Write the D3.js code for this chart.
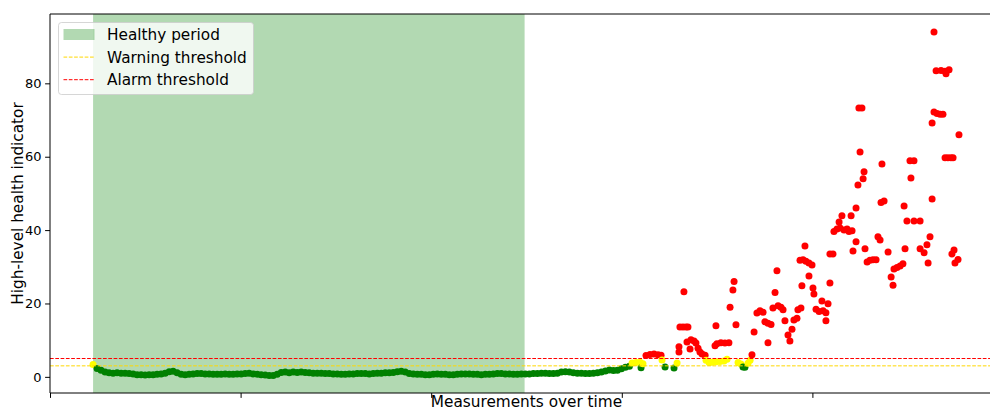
<!DOCTYPE html>
<html>
<head>
<meta charset="utf-8">
<script src="https://cdn.jsdelivr.net/npm/d3@7"></script>
<style>
  html, body { margin: 0; padding: 0; background: #fff; }
  svg { display: block; font-family: "DejaVu Sans", sans-serif; }
</style>
</head>
<body>
<svg id="chart" width="990" height="410"></svg>
<script>
// Health indicator per measurement: a dense, steady baseline followed by a
// sparse stretch where the indicator climbs past both thresholds.
const baselineStart = 226;
const baselineStep = 21;
const baselineValues = [
  3.4, 2.3, 1.8, 1.3, 1.1, 1.0, 1.1, 1.0, 1.0, 0.9, 0.8, 0.6, 0.6, 0.5, 0.6, 0.6,
  0.7, 0.8, 1.0, 1.4, 1.5, 1.1, 0.7, 0.6, 0.7, 0.8, 0.9, 0.9, 0.8, 0.8, 0.7, 0.7,
  0.7, 0.8, 0.7, 0.7, 0.8, 0.8, 0.9, 1.0, 0.8, 0.7, 0.6, 0.5, 0.4, 0.4, 0.7, 1.2,
  1.3, 1.1, 1.3, 1.2, 1.3, 1.2, 1.1, 1.0, 1.0, 1.0, 0.9, 0.9, 0.8, 0.8, 0.7, 0.7,
  0.8, 0.8, 0.9, 0.9, 0.9, 0.8, 0.9, 1.0, 1.0, 1.1, 1.1, 1.2, 1.4, 1.5, 1.3, 0.9,
  0.8, 0.7, 0.7, 0.6, 0.6, 0.7, 0.8, 0.7, 0.7, 0.6, 0.6, 0.7, 0.8, 0.8, 0.8, 0.7,
  0.7, 0.6, 0.7, 0.7, 0.8, 0.9, 0.9, 0.8, 0.8, 0.7, 0.7, 0.8, 0.8, 0.8, 0.9, 0.9,
  1.0, 1.0, 0.9, 0.9, 1.0, 1.3, 1.4, 1.3, 1.1, 1.0, 1.0, 0.9, 0.9, 1.0, 1.1, 1.3,
  1.6, 1.9, 1.7, 1.8, 2.2, 2.6, 2.9
];

const lateTimes = [
  3054, 3075, 3096, 3101, 3111, 3127, 3148, 3169, 3190, 3206, 3211, 3227, 3274, 3290, 3300, 3300,
  3305, 3321, 3326, 3337, 3342, 3347, 3358, 3363, 3379, 3389, 3400, 3410, 3421, 3437, 3442, 3458,
  3473, 3489, 3494, 3494, 3499, 3515, 3520, 3536, 3541, 3552, 3562, 3568, 3583, 3589, 3599, 3610,
  3625, 3636, 3646, 3662, 3673, 3683, 3694, 3709, 3725, 3741, 3751, 3767, 3767, 3783, 3793, 3804,
  3814, 3820, 3835, 3846, 3856, 3872, 3882, 3893, 3903, 3919, 3924, 3935, 3940, 3945, 3951, 3961,
  3966, 3982, 3982, 3998, 4003, 4008, 4019, 4035, 4050, 4056, 4071, 4071, 4082, 4092, 4092, 4108,
  4113, 4129, 4140, 4145, 4155, 4166, 4182, 4192, 4203, 4208, 4213, 4229, 4229, 4239, 4244, 4250,
  4260, 4266, 4271, 4276, 4287, 4302, 4318, 4334, 4344, 4355, 4360, 4365, 4376, 4397, 4413, 4423,
  4428, 4444, 4460, 4475, 4481, 4486, 4496, 4512, 4517, 4533, 4533, 4565, 4565, 4586, 4601, 4607,
  4617, 4628, 4628, 4638, 4638, 4649, 4654, 4670, 4675, 4685, 4696, 4696, 4701, 4711, 4717, 4727,
  4732, 4738, 4743, 4748, 4764, 4769
];
const lateValues = [
  3.8, 3.9, 4.0, 2.5, 3.6, 5.8, 6.1, 6.2, 6.0, 5.9, 4.6, 2.7, 2.4, 3.8, 6.8, 8.2,
  13.6, 13.6, 23.2, 13.6, 9.5, 13.6, 7.6, 10.1, 9.8, 9.2, 7.8, 6.8, 6.2, 5.9, 4.5, 3.9,
  4.0, 8.5, 4.1, 13.9, 9.0, 4.2, 9.3, 4.3, 9.2, 4.8, 9.3, 19.0, 23.7, 26.0, 14.2, 3.9,
  3.5, 2.7, 2.6, 3.7, 4.5, 6.0, 12.2, 17.4, 18.0, 17.6, 15.0, 14.6, 9.3, 14.3, 18.8, 23.0,
  28.9, 19.4, 19.0, 18.3, 15.3, 11.4, 9.8, 13.0, 15.5, 16.0, 18.3, 31.8, 18.8, 24.8, 31.9, 35.7,
  31.5, 31.0, 27.5, 30.5, 24.2, 22.6, 18.4, 17.8, 20.7, 18.0, 15.3, 17.5, 19.9, 25.6, 33.5, 33.5,
  39.6, 40.3, 42.2, 40.6, 43.9, 40.0, 40.3, 39.6, 43.9, 39.8, 34.3, 36.8, 46.0, 52.3, 73.3, 61.3,
  73.3, 54.0, 55.9, 34.9, 31.3, 31.8, 31.9, 31.9, 38.2, 37.3, 47.5, 58.0, 47.9, 34.0, 27.2, 25.0,
  29.4, 29.8, 30.2, 30.8, 46.6, 34.9, 42.5, 58.9, 54.2, 58.9, 42.5, 42.5, 34.9, 33.8, 36.0, 31.0,
  38.2, 48.5, 69.2, 94.0, 72.2, 83.4, 71.8, 71.6, 83.5, 71.6, 83.3, 59.7, 82.6, 59.7, 83.7, 59.7,
  33.5, 59.7, 34.6, 31.0, 32.0, 66.0
];

const healthyPeriod = [226, 2490];
const warningThreshold = 3;
const alarmThreshold = 5;
const xDomain = [0, 5000];
const yDomain = [-4.4, 98.9];
const xTicks = [0, 1000, 2000, 3000, 4000, 5000];
const yTicks = [0, 20, 40, 60, 80];

// Assemble the point table from the arrays above.
const points = baselineValues.map((v, i) => ({ t: baselineStart + i * baselineStep, v }))
  .concat(lateTimes.map((t, i) => ({ t, v: lateValues[i] })));

const margin = { left: 50, top: 14, right: 1003, bottom: 393 };
const svg = d3.select("#chart");

const x = d3.scaleLinear().domain(xDomain).range([margin.left, margin.right]);
const y = d3.scaleLinear().domain(yDomain).range([margin.bottom, margin.top]);

const colorFor = v => v >= alarmThreshold ? "#ff0000" : (v >= warningThreshold ? "#ffff00" : "#008000");

// Healthy span shading
svg.append("rect")
  .attr("x", x(healthyPeriod[0]))
  .attr("y", margin.top)
  .attr("width", x(healthyPeriod[1]) - x(healthyPeriod[0]))
  .attr("height", margin.bottom - margin.top)
  .attr("fill", "#008000")
  .attr("fill-opacity", 0.3);

// Measurements
svg.append("g")
  .selectAll("circle")
  .data(points)
  .join("circle")
  .attr("cx", d => x(d.t))
  .attr("cy", d => y(d.v))
  .attr("r", 3.5)
  .attr("fill", d => colorFor(d.v));

// Threshold lines
const thresholds = [
  { v: warningThreshold, color: "#ffd700" },
  { v: alarmThreshold, color: "#ff0000" }
];
svg.append("g")
  .selectAll("line")
  .data(thresholds)
  .join("line")
  .attr("x1", margin.left)
  .attr("x2", margin.right)
  .attr("y1", d => y(d.v))
  .attr("y2", d => y(d.v))
  .attr("stroke", d => d.color)
  .attr("stroke-width", 1)
  .attr("stroke-dasharray", "3.7,1.6");

// Axes
const xAxis = d3.axisBottom(x).tickValues(xTicks).tickFormat("").tickSize(4.9).tickSizeOuter(0);
const gx = svg.append("g")
  .attr("transform", `translate(0,${margin.bottom})`)
  .call(xAxis);
gx.select(".domain").remove();
gx.selectAll(".tick line").attr("stroke", "#000").attr("stroke-width", 1);

const yAxis = d3.axisLeft(y).tickValues(yTicks).tickSize(4.9).tickPadding(3.5).tickSizeOuter(0);
const gy = svg.append("g")
  .attr("transform", `translate(${margin.left},0)`)
  .call(yAxis);
gy.select(".domain").remove();
gy.selectAll(".tick line").attr("stroke", "#000").attr("stroke-width", 1);
gy.selectAll(".tick text")
  .attr("fill", "#000")
  .style("font-family", "DejaVu Sans, sans-serif")
  .style("font-size", "13px");

// Spines (right edge falls outside the figure)
const spine = svg.append("g").attr("stroke", "#000").attr("stroke-width", 1).attr("fill", "none");
spine.append("line").attr("x1", margin.left).attr("x2", margin.left).attr("y1", margin.top).attr("y2", margin.bottom);
spine.append("line").attr("x1", margin.left).attr("x2", margin.right).attr("y1", margin.bottom).attr("y2", margin.bottom);
spine.append("line").attr("x1", margin.left).attr("x2", margin.right).attr("y1", margin.top).attr("y2", margin.top);

// Axis titles
svg.append("text")
  .attr("x", (margin.left + margin.right) / 2)
  .attr("y", 407)
  .attr("text-anchor", "middle")
  .style("font-size", "15.3px")
  .text("Measurements over time");

svg.append("text")
  .attr("transform", `translate(23,${(margin.top + margin.bottom) / 2}) rotate(-90)`)
  .attr("text-anchor", "middle")
  .style("font-size", "15.3px")
  .text("High-level health indicator");

// Legend
const legend = svg.append("g").attr("transform", "translate(58.5,22.5)");
legend.append("rect")
  .attr("width", 195)
  .attr("height", 72)
  .attr("rx", 3)
  .attr("fill", "#fff")
  .attr("fill-opacity", 0.8)
  .attr("stroke", "#cccccc")
  .attr("stroke-opacity", 0.8);

const legendItems = [
  { label: "Healthy period", kind: "patch" },
  { label: "Warning threshold", kind: "line", color: "#ffd700" },
  { label: "Alarm threshold", kind: "line", color: "#ff0000" }
];
legendItems.forEach((item, i) => {
  const cy = 12 + i * 22.6;
  if (item.kind === "patch") {
    legend.append("rect")
      .attr("x", 5).attr("y", cy - 5.5)
      .attr("width", 31).attr("height", 11)
      .attr("fill", "#008000").attr("fill-opacity", 0.3);
  } else {
    legend.append("line")
      .attr("x1", 5).attr("x2", 36)
      .attr("y1", cy).attr("y2", cy)
      .attr("stroke", item.color)
      .attr("stroke-width", 1)
      .attr("stroke-dasharray", "3.7,1.6");
  }
  legend.append("text")
    .attr("x", 48.5)
    .attr("y", cy + 5.6)
    .style("font-size", "15.3px")
    .attr("fill", "#000")
    .text(item.label);
});
</script>
</body>
</html>
